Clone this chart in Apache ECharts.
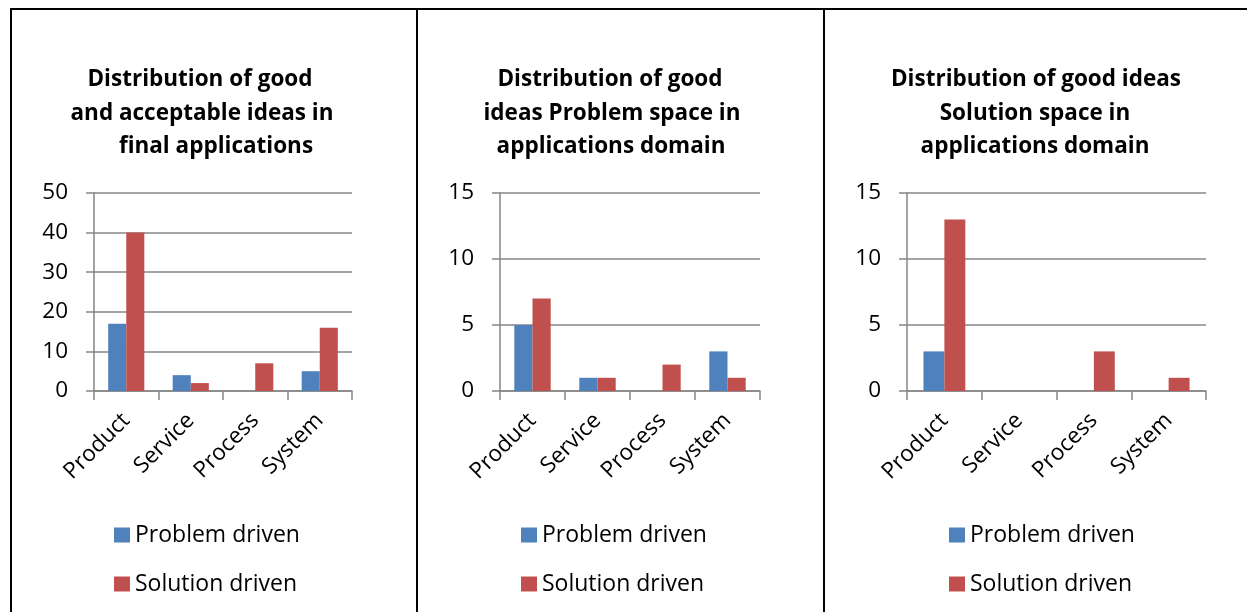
<!DOCTYPE html>
<html><head><meta charset="utf-8">
<script src="https://cdn.jsdelivr.net/npm/echarts@6/dist/echarts.min.js"></script>
<style>html,body{margin:0;padding:0;background:#fff}#c{width:1247px;height:612px}</style>
</head><body><div id="c"></div>
<script>
const categories = ['Product', 'Service', 'Process', 'System'];
const seriesNames = ['Problem driven', 'Solution driven'];
const panelTitles = [
  ['Distribution of good', 'and acceptable ideas in', 'final applications'],
  ['Distribution of good', 'ideas Problem space in', 'applications domain'],
  ['Distribution of good ideas', 'Solution space in', 'applications domain']
];
const problemDriven1 = [17, 4, 0, 5];
const solutionDriven1 = [40, 2, 7, 16];
const problemDriven2 = [5, 1, 0, 3];
const solutionDriven2 = [7, 1, 2, 1];
const problemDriven3 = [3, 0, 0, 0];
const solutionDriven3 = [13, 0, 3, 1];
const yMax = [50, 15, 15];
const yStep = [10, 5, 5];

const FONT = '"Open Sans", "Noto Sans", sans-serif';
const BLUE = '#4F81BD', RED = '#C0504D', GRAY = '#868686';
const panels = [
  {left: 94, width: 258, titleX: [200, 202, 216], legendX: 114, data: [problemDriven1, solutionDriven1]},
  {left: 500, width: 260, titleX: [610, 612, 611], legendX: 521, data: [problemDriven2, solutionDriven2]},
  {left: 907, width: 299, titleX: [1036, 1035, 1035], legendX: 949, data: [problemDriven3, solutionDriven3]}
];
const titleY = [65, 99, 132];

const option = {
  animation: false,
  backgroundColor: '#fff',
  title: [], legend: [], grid: [], xAxis: [], yAxis: [], series: [],
  graphic: [
    {type: 'line', shape: {x1: 10, y1: 9, x2: 1247, y2: 9}, style: {stroke: '#000', lineWidth: 2}},
    {type: 'line', shape: {x1: 11, y1: 8, x2: 11, y2: 612}, style: {stroke: '#000', lineWidth: 2}},
    {type: 'line', shape: {x1: 417, y1: 8, x2: 417, y2: 612}, style: {stroke: '#000', lineWidth: 2}},
    {type: 'line', shape: {x1: 824, y1: 8, x2: 824, y2: 612}, style: {stroke: '#000', lineWidth: 2}}
  ]
};

panels.forEach((p, i) => {
  panelTitles[i].forEach((line, j) => {
    option.title.push({
      text: line, left: p.titleX[j], top: titleY[j], textAlign: 'center', padding: 0,
      textStyle: {fontFamily: FONT, fontWeight: 'bold', fontSize: 22.5, color: '#000', lineHeight: 30}
    });
  });
  option.legend.push({
    orient: 'vertical', left: p.legendX, top: 523, padding: 0,
    itemWidth: 16, itemHeight: 15, itemGap: 25, icon: 'rect',
    data: seriesNames,
    textStyle: {fontFamily: FONT, fontSize: 23, color: '#000', lineHeight: 24, padding: [0, 0, 0, 0]}
  });
  option.grid.push({left: p.left, width: p.width, top: 193, height: 198, containLabel: false});
  option.xAxis.push({
    type: 'category', gridIndex: i, data: categories,
    axisLine: {show: true, lineStyle: {color: GRAY, width: 1.5}},
    axisTick: {show: true, length: 9, lineStyle: {color: GRAY, width: 1.5}},
    axisLabel: {rotate: 45, margin: 26, fontFamily: FONT, fontSize: 22.5, color: '#000', interval: 0}
  });
  option.yAxis.push({
    type: 'value', gridIndex: i, min: 0, max: yMax[i], interval: yStep[i],
    axisLine: {show: true, lineStyle: {color: GRAY, width: 1.5}},
    axisTick: {show: true, inside: false, length: 8, lineStyle: {color: GRAY, width: 1.5}},
    splitLine: {show: true, lineStyle: {color: GRAY, width: 1.5}},
    axisLabel: {margin: 26, fontFamily: FONT, fontSize: 22.5, color: '#000'}
  });
  seriesNames.forEach((name, k) => {
    option.series.push({
      type: 'bar', name: name, xAxisIndex: i, yAxisIndex: i,
      data: p.data[k], barWidth: '28%', barGap: '0%',
      itemStyle: {color: k === 0 ? BLUE : RED}
    });
  });
});

const chart = echarts.init(document.getElementById('c'), null, {renderer: 'canvas'});
chart.setOption(option);
</script>
</body></html>
